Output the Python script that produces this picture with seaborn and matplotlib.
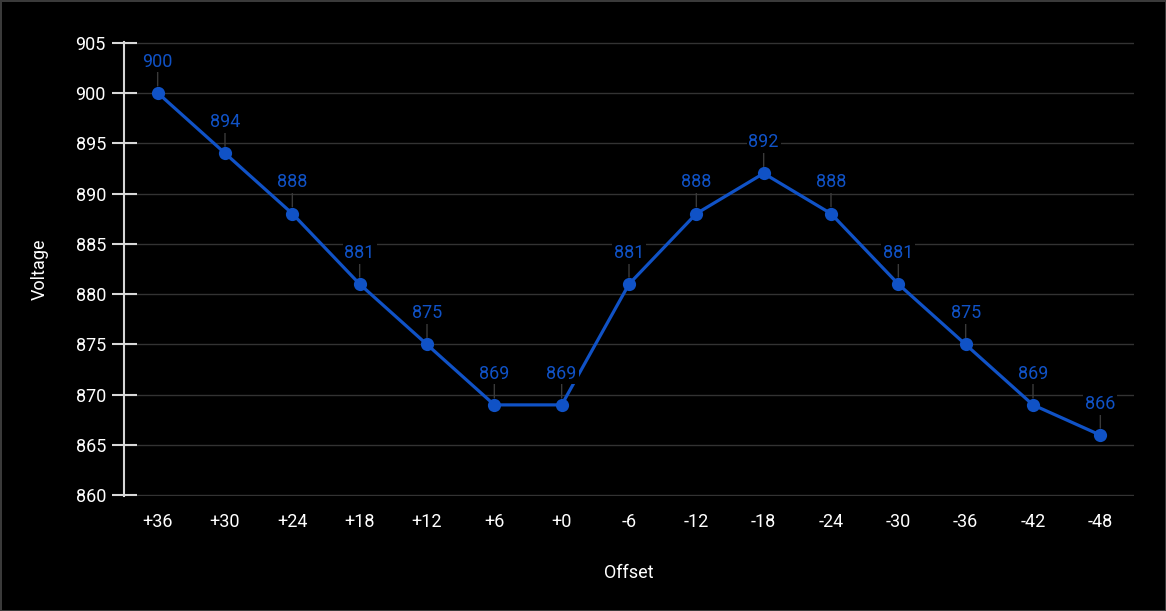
import numpy as np
import pandas as pd
import matplotlib

matplotlib.use("Agg")
import matplotlib.pyplot as plt
import seaborn as sns

offsets = ["+36", "+30", "+24", "+18", "+12", "+6", "+0", "-6", "-12",
           "-18", "-24", "-30", "-36", "-42", "-48"]
voltage = [900, 894, 888, 881, 875, 869, 869, 881, 888, 892, 888, 881, 875, 869, 866]
y_ticks = [860, 865, 870, 875, 880, 885, 890, 895, 900, 905]

sns.set_style("dark")
plt.rcParams["font.family"] = ["Roboto", "DejaVu Sans"]

blue = "#1052c6"
df = pd.DataFrame({"offset": offsets, "voltage": voltage})

fig = plt.figure(figsize=(11.66, 6.11), dpi=100, facecolor="black",
                 edgecolor="#3a3a3a", linewidth=2)
ax = fig.add_axes([124 / 1166, (611 - 496) / 611, (1134 - 124) / 1166, (496 - 42) / 611])
ax.set_facecolor("black")

sns.lineplot(data=df, x="offset", y="voltage", sort=False, color=blue,
             linewidth=2.3, marker="o", markersize=9.5, markeredgewidth=0, ax=ax)

# leader line + value label above each point
for i, v in enumerate(voltage):
    ax.annotate("", xy=(i, v), xytext=(0, 15), textcoords="offset points",
                xycoords="data",
                arrowprops=dict(arrowstyle="-", color="#3a3a3a", lw=1,
                                shrinkA=0, shrinkB=5))
    ax.annotate(str(v), xy=(i, v), xytext=(0, 22.5), textcoords="offset points",
                ha="center", va="center", color=blue, fontsize=13,
                bbox=dict(boxstyle="square,pad=0.1", fc="black", ec="none"))

ax.set_xlim(-0.5, len(offsets) - 1 + 0.5)
ax.set_ylim(859.95, 905.05)
ax.set_yticks(y_ticks)
ax.grid(axis="y", color="#333333", linewidth=1)
ax.grid(axis="x", visible=False)

for s in ["top", "right", "bottom"]:
    ax.spines[s].set_visible(False)
ax.spines["left"].set_color("#d8d8d8")
ax.spines["left"].set_linewidth(1.5)
ax.tick_params(axis="y", left=True, direction="inout", length=18, width=1.5,
               color="#d8d8d8", labelcolor="white", labelsize=13, pad=4)
ax.tick_params(axis="x", bottom=False, length=0, labelcolor="white", labelsize=13, pad=12)

ax.set_xlabel("Offset", color="white", fontsize=13, labelpad=24)
ax.set_ylabel("Voltage", color="white", fontsize=13, labelpad=19)

fig.savefig("out.png", dpi=100, facecolor="black", edgecolor="#3a3a3a")
